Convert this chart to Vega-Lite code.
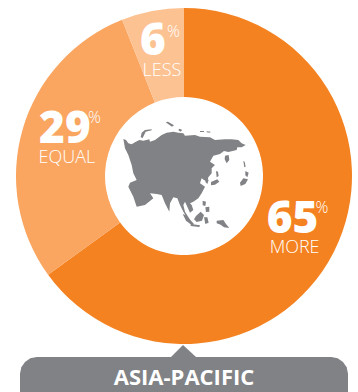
{
  "$schema": "https://vega.github.io/schema/vega-lite/v6.json",
  "width": 348,
  "height": 352,
  "padding": {"left": 10, "top": 0, "right": 0, "bottom": 40},
  "autosize": "none",
  "background": "white",
  "title": {
    "text": "ASIA-PACIFIC",
    "orient": "bottom",
    "anchor": "middle",
    "offset": -27,
    "zindex": 1,
    "baseline": "top",
    "color": "white",
    "font": "Open Sans",
    "fontSize": 22,
    "fontWeight": 700
  },
  "layer": [
    {
      "data": {
        "name": "shares",
        "values": [
          {"label": "MORE", "value": 65},
          {"label": "EQUAL", "value": 29},
          {"label": "LESS", "value": 6}
        ]
      },
      "encoding": {
        "theta": {"field": "value", "type": "quantitative", "stack": true, "scale": {"domain": [0, 100]}},
        "order": {"field": "value", "sort": "descending"},
        "detail": {"field": "label"}
      },
      "layer": [
        {
          "mark": {"type": "arc", "outerRadius": 168, "innerRadius": 79},
          "encoding": {
            "color": {
              "field": "label",
              "type": "nominal",
              "legend": null,
              "scale": {"domain": ["MORE", "EQUAL", "LESS"], "range": ["#F58220", "#FAA661", "#FDC292"]}
            }
          }
        },
        {
          "mark": {"type": "text", "radius": 123, "align": "center", "baseline": "alphabetic", "dx": -1, "dy": 1, "color": "white", "font": "Open Sans", "fontSize": 44, "fontWeight": 800},
          "encoding": {"text": {"condition": {"test": "datum.value >= 10", "field": "value", "type": "nominal"}, "value": ""}}
        },
        {
          "mark": {"type": "text", "radius": 123, "align": "center", "baseline": "alphabetic", "dx": -8, "dy": 0, "color": "white", "font": "Open Sans", "fontSize": 44, "fontWeight": 800},
          "encoding": {"text": {"condition": {"test": "datum.value < 10", "field": "value", "type": "nominal"}, "value": ""}}
        },
        {
          "mark": {"type": "text", "radius": 123, "align": "center", "baseline": "alphabetic", "dx": 1, "dy": 21, "color": "white", "font": "Open Sans", "fontSize": 18, "fontWeight": 300},
          "encoding": {"text": {"field": "label", "type": "nominal"}}
        },
        {
          "mark": {"type": "text", "radius": 123, "align": "left", "baseline": "alphabetic", "dx": 22, "dy": -19, "color": "white", "font": "Open Sans", "fontSize": 16, "fontWeight": 300},
          "encoding": {"text": {"condition": {"test": "datum.value >= 10", "value": "%"}, "value": ""}}
        },
        {
          "mark": {"type": "text", "radius": 123, "align": "left", "baseline": "alphabetic", "dx": 6, "dy": -18, "color": "white", "font": "Open Sans", "fontSize": 16, "fontWeight": 300},
          "encoding": {"text": {"condition": {"test": "datum.value < 10", "value": "%"}, "value": ""}}
        }
      ]
    },
    {
      "data": {
        "name": "shapes",
        "values": [
          {"type": "Feature", "properties": {"name": "Asia mainland"}, "geometry": {"type": "Polygon", "coordinates": [
            [[70,147],[78,150],[85,160],[95,163],[105,157],[118,150],[130,152],[148,148],[150,155],[165,150],[185,135],[200,128],[220,125],[235,128],[250,130],[255,137],[285,135],[300,140],[330,142],[345,150],[375,148],[395,148],[415,150],[425,160],[437,165],[425,172],[412,172],[410,180],[398,183],[385,186],[372,183],[360,192],[340,197],[330,215],[345,225],[335,235],[335,250],[325,262],[322,275],[312,270],[305,265],[300,280],[315,290],[305,310],[295,325],[280,335],[270,340],[275,345],[280,360],[270,368],[262,350],[255,335],[250,345],[255,365],[272,392],[265,390],[250,365],[240,345],[232,325],[220,322],[210,340],[208,365],[195,340],[185,315],[170,312],[150,310],[160,325],[135,345],[110,350],[100,320],[85,290],[90,278],[110,270],[100,250],[95,225],[85,195],[75,175],[70,147]],
            [[120,245],[132,243],[130,255],[136,270],[125,272],[118,258],[120,245]],
            [[153,241],[162,241],[161,250],[153,250],[153,241]]
          ]}},
          {"type": "Feature", "properties": {"name": "Asia islands"}, "geometry": {"type": "MultiPolygon", "coordinates": [
            [[[375,197],[386,195],[388,210],[380,220],[374,208],[375,197]]],
            [[[348,243],[354,245],[356,258],[350,262],[348,243]]],
            [[[318,264],[326,270],[322,282],[316,276],[318,264]]],
            [[[333,276],[352,268],[358,275],[345,284],[333,286],[333,276]]],
            [[[430,213],[434,215],[437,230],[433,232],[430,213]]],
            [[[436,243],[446,248],[442,262],[436,256],[436,243]]],
            [[[430,265],[444,268],[436,282],[422,288],[420,278],[430,265]]],
            [[[197,97],[204,95],[222,106],[216,110],[197,97]]],
            [[[122,142],[125,128],[135,120],[155,118],[155,121],[137,125],[128,144],[122,142]]],
            [[[300,123],[312,123],[312,126],[300,126],[300,123]]],
            [[[320,124],[332,125],[330,128],[320,127],[320,124]]],
            [[[238,116],[247,120],[241,125],[235,120],[238,116]]],
            [[[248,372],[258,376],[282,402],[276,406],[258,392],[248,372]]],
            [[[272,402],[300,406],[298,411],[272,408],[272,402]]],
            [[[288,378],[302,365],[312,375],[306,392],[290,396],[282,388],[288,378]]],
            [[[308,332],[318,335],[316,348],[308,346],[308,332]]],
            [[[316,352],[328,350],[328,365],[318,366],[316,352]]],
            [[[312,382],[322,382],[326,398],[316,402],[312,382]]],
            [[[350,392],[370,390],[378,402],[388,414],[372,412],[362,404],[350,400],[350,392]]]
          ]}},
          {"type": "Feature", "properties": {"name": "Banner pointer"}, "geometry": {"type": "Polygon", "coordinates": [[[249,765],[288,801],[213,801],[249,765]]]}},
          {"type": "Feature", "properties": {"name": "Banner"}, "geometry": {"type": "Polygon", "coordinates": [[[-190,801],[694,801],[713,805],[729,816],[740,832],[744,851],[744,915],[-240,915],[-240,851],[-236,832],[-225,816],[-209,805],[-190,801]]]}}
        ]
      },
      "projection": {"type": "identity", "scale": 0.33333, "translate": [90, 90]},
      "mark": {"type": "geoshape", "fill": "#808285", "stroke": null, "clip": false}
    }
  ]
}
